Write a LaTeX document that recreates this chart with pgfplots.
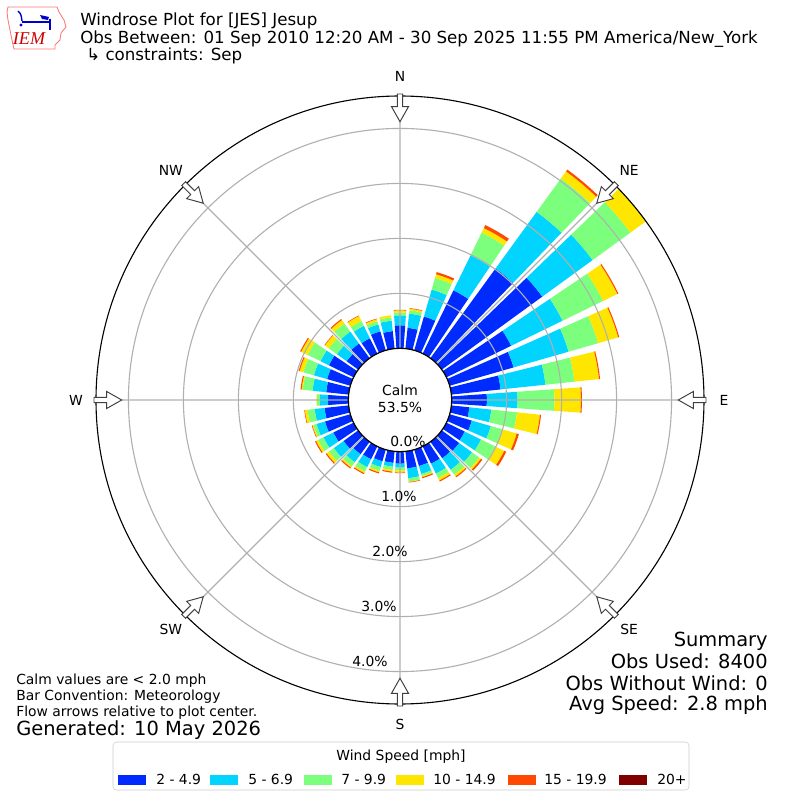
\documentclass[border=0pt]{standalone}
\usepackage{pgfplots}
\pgfplotsset{compat=1.18}
\usepgfplotslibrary{polar}
\usepackage{pgfplotstable}
\usepackage{fontspec}
\setmainfont{DejaVu Sans}
\newfontfamily\seriffont{Liberation Serif}
\definecolor{wsA}{HTML}{002BFF}
\definecolor{wsB}{HTML}{00D4FF}
\definecolor{wsC}{HTML}{7CFF7C}
\definecolor{wsD}{HTML}{FFE600}
\definecolor{wsE}{HTML}{FF4900}
\definecolor{wsF}{HTML}{800000}

% frequency [%] of each speed bin, per direction (compass degrees)
\pgfplotstableread{
dir b1 b2 b3 b4 b5 b6
0 0.42 0.18 0.05 0.04 0.01 0
10 0.38 0.26 0.06 0.03 0.01 0
20 0.64 0.51 0.22 0.07 0.04 0
30 1.28 0.71 0.46 0.09 0.06 0
40 2.02 1.27 0.75 0.16 0.04 0
50 2.26 1.13 0.85 0.35 0 0
60 1.31 1.04 0.82 0.29 0.02 0
70 1.21 1.04 0.56 0.38 0.02 0
80 0.90 0.82 0.53 0.45 0.02 0
90 0.64 0.56 0.67 0.48 0.02 0
100 0.33 0.40 0.47 0.42 0.02 0
110 0.42 0.36 0.22 0.27 0.04 0
120 0.37 0.33 0.29 0.18 0.04 0
130 0.39 0.29 0.16 0.04 0.03 0
140 0.37 0.26 0.11 0.04 0.02 0
150 0.35 0.20 0.09 0.05 0.02 0
160 0.31 0.15 0.04 0.02 0.02 0
170 0.31 0.18 0.06 0.01 0.01 0
180 0.22 0.07 0.05 0.04 0.01 0
190 0.21 0.07 0.06 0.03 0.02 0
200 0.22 0.11 0.07 0.03 0.02 0
210 0.26 0.16 0.09 0.03 0.02 0
220 0.28 0.18 0.09 0.03 0.02 0
230 0.33 0.22 0.11 0.05 0.02 0
240 0.41 0.20 0.11 0.04 0.02 0
250 0.48 0.16 0.06 0.02 0.01 0
260 0.44 0.18 0.13 0.05 0.01 0
270 0.37 0.15 0.05 0.01 0 0
280 0.41 0.25 0.18 0.02 0.02 0
290 0.44 0.25 0.20 0.07 0.02 0
300 0.50 0.17 0.26 0.13 0.02 0
310 0.26 0.22 0.18 0.09 0.01 0
320 0.33 0.27 0.18 0.08 0.02 0
330 0.31 0.25 0.10 0.10 0.01 0
340 0.36 0.13 0.06 0.04 0.01 0
350 0.32 0.19 0.06 0.04 0 0
}\rose

\def\roff{0.94}% radius of the calm circle (0 %)
\newcommand\roseseg[3]{%
  \pgfplotstablegetelem{#1}{#2}\of\rose
  \ifdim\pgfplotsretval pt>0pt
    \pgfmathsetmacro\rtop{\rbase+\pgfplotsretval}%
    \pgfmathsetmacro\rA{\rbase+\roff}%
    \pgfmathsetmacro\rB{\rtop+\roff}%
    \edef\temp{\noexpand\addplot[draw=none,fill=#3,forget plot] coordinates {(\aA,\rA) (\aA,\rB) (\aB,\rB) (\aC,\rB) (\aD,\rB) (\aE,\rB) (\aE,\rA) (\aD,\rA) (\aC,\rA) (\aB,\rA)};}%
    \temp
    \global\let\rbase\rtop
  \fi
}
\newcommand\drawdir[1]{%
  \pgfplotstablegetelem{#1}{dir}\of\rose
  \pgfmathsetmacro\aC{90-\pgfplotsretval}%
  \pgfmathsetmacro\aA{\aC-4}\pgfmathsetmacro\aB{\aC-2}%
  \pgfmathsetmacro\aD{\aC+2}\pgfmathsetmacro\aE{\aC+4}%
  \gdef\rbase{0}%
  \roseseg{#1}{b1}{wsA}\roseseg{#1}{b2}{wsB}\roseseg{#1}{b3}{wsC}%
  \roseseg{#1}{b4}{wsD}\roseseg{#1}{b5}{wsE}\roseseg{#1}{b6}{wsF}%
}

\begin{document}
\begin{tikzpicture}
\useasboundingbox (0,0) rectangle (576pt,576pt);
\begin{polaraxis}[at={(288pt,288pt)}, anchor=center, scale only axis,
  width=437.76pt, height=437.76pt, ymin=0, ymax=5.53,
  xtick={0,45,...,315}, ytick={1.94,2.94,3.94,4.94},
  xticklabels={}, yticklabels={}, major tick length=0pt,
  xmajorgrids, ymajorgrids, grid style={black!31, line width=0.8pt},
  separate axis lines,
  x axis line style={black, line width=0.8pt},
  y axis line style={draw=none},
  axis on top]
\pgfplotsinvokeforeach{0,...,35}{\drawdir{#1}}
\end{polaraxis}
\begin{scope}[x=0.72pt,y=-0.72pt,shift={(0pt,576pt)}]
  % calm circle
  \fill[white] (400,400) circle[radius=51.7];
  \draw[black, line width=0.9pt] (400,400) circle[radius=51.7];
  % arrows and compass labels
  \foreach \c/\lab in {0/N,45/NE,90/E,135/SE,180/S,225/SW,270/W,315/NW}{
    \draw[rotate around={-\c:(400,400)}, fill=white, draw=black!75, line width=0.7pt]
      (397.3,94)--(402.7,94)--(402.7,106.7)--(408.5,106.7)--(400,121.7)--(391.5,106.7)--(397.3,106.7)--cycle;
    \node[font=\fontsize{10}{12}\selectfont, inner sep=0] at ({400+324*sin(\c)},{400-324*cos(\c)}) {\lab};
  }
  % calm text
  \node[anchor=base, font=\fontsize{10}{12}\selectfont, inner sep=0] at (400,396) {Calm};
  \node[anchor=base, font=\fontsize{10}{12}\selectfont, inner sep=0] at (400,413) {53.5\%};
  % range labels
  \foreach \x/\y/\t in {408/447/0.0,399/502/1.0,390/557/2.0,379/612/3.0,370/667/4.0}{
    \node[anchor=base, font=\fontsize{10}{12}\selectfont, inner sep=0] at (\x,\y) {\t\%};
  }
  % titles
  \node[anchor=base west, font=\fontsize{12}{14}\selectfont, inner sep=0] at (80,26) {Windrose Plot for [JES] Jesup};
  \node[anchor=base west, font=\fontsize{12}{14}\selectfont, inner sep=0] at (80,43.5) {Obs Between: 01 Sep 2010 12:20 AM - 30 Sep 2025 11:55 PM America/New\_York};
  \node[anchor=base west, font=\fontsize{12}{14}\selectfont, inner sep=0] at (86,61) {↳ constraints: Sep};
  % logo
  \draw[red!55, line width=0.6pt] (8,7)--(57,7)--(59,12)--(64,20)--(66,27)--(61,33)--(60,40)--(55,45)--(55,49)--(14,49)--(12,40)--(10,30)--(8,20)--(7,12)--cycle;
  \draw[blue!80!black, line width=1.2pt] (22,22)--(49,22);
  \draw[blue!80!black, line width=1pt] (18,11) .. controls (21,14) .. (22,21);
  \fill[blue!80!black] (40,15)--(49,17)--(48,20)--(42,19)--cycle;
  \draw[blue!80!black, line width=1pt] (50,19)--(50,30);
  \fill[blue!80!black] (21,25) circle[radius=1.6];
  \node[anchor=base, font=\seriffont\itshape\fontsize{13}{14}\selectfont, text=red!80!black, inner sep=0] at (29,45) {IEM};
  % bottom-left notes
  \node[anchor=base west, font=\fontsize{10}{12}\selectfont, inner sep=0] at (16,685) {Calm values are < 2.0 mph};
  \node[anchor=base west, font=\fontsize{10}{12}\selectfont, inner sep=0] at (16,701) {Bar Convention: Meteorology};
  \node[anchor=base west, font=\fontsize{10}{12}\selectfont, inner sep=0] at (16,717) {Flow arrows relative to plot center.};
  \node[anchor=base west, font=\fontsize{14}{16}\selectfont, inner sep=0] at (16,736) {Generated: 10 May 2026};
  % summary
  \node[anchor=base east, font=\fontsize{14}{16}\selectfont, inner sep=0] at (768,647) {Summary};
  \node[anchor=base east, font=\fontsize{14}{16}\selectfont, inner sep=0] at (768,668) {Obs Used: 8400};
  \node[anchor=base east, font=\fontsize{14}{16}\selectfont, inner sep=0] at (768,690) {Obs Without Wind: 0};
  \node[anchor=base east, font=\fontsize{14}{16}\selectfont, inner sep=0] at (768,711) {Avg Speed: 2.8 mph};
  % legend
  \draw[rounded corners=2.5pt, draw=black!20, fill=white] (113,742) rectangle (689,790);
  \node[anchor=base, font=\fontsize{10}{12}\selectfont, inner sep=0] at (401,760) {Wind Speed [mph]};
  \foreach \px/\tx/\col/\t in {118/156/wsA/2 - 4.9, 210/248/wsB/5 - 6.9, 304/341/wsC/7 - 9.9, 396/433/wsD/10 - 14.9, 508/544/wsE/15 - 19.9, 619/657/wsF/20+}{
    \fill[\col] (\px,775) rectangle ++(28,9.5);
    \node[anchor=base west, font=\fontsize{10}{12}\selectfont, inner sep=0] at (\tx,784.5) {\t};
  }
\end{scope}
\end{tikzpicture}
\end{document}
